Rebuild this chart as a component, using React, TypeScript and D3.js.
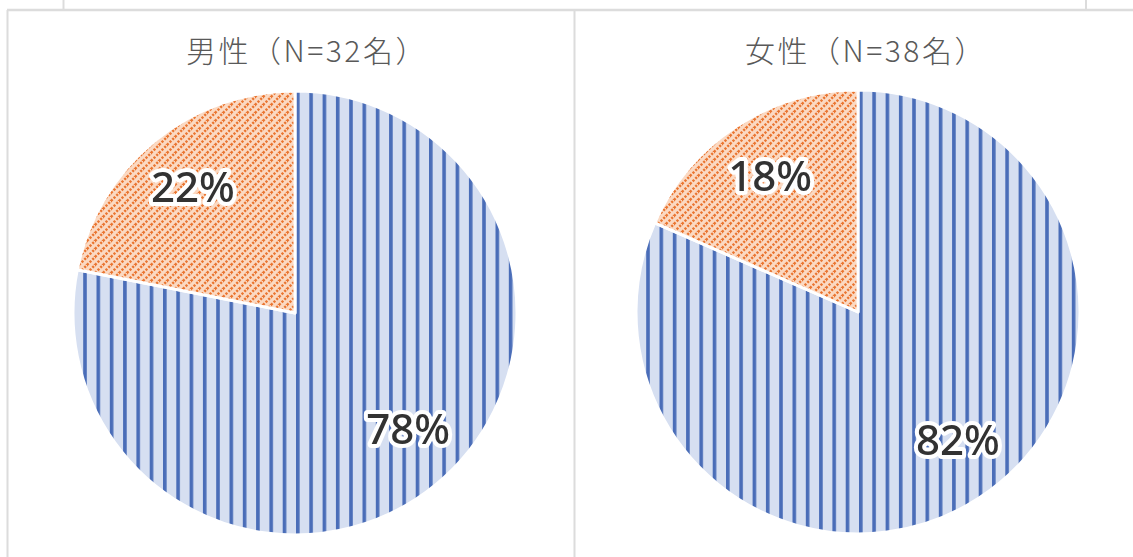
import React from "react";
import * as d3 from "d3";

const categories = ["はい", "いいえ"];
const maleCounts = [25, 7];
const femaleCounts = [31, 7];
const titles = ["男性（N=32名）", "女性（N=38名）"];
const labelsMale = ["78%", "22%"];
const labelsFemale = ["82%", "18%"];

const W = 1133;
const H = 557;

function Pie({ cx, cy, r, values, labels, title, titleDx }: any) {
  const pie = d3.pie<number>().sort(null).value((d) => d);
  const arcs = pie(values);
  const arc = d3.arc<d3.PieArcDatum<number>>().innerRadius(0).outerRadius(r);
  const fills = [`url(#blueStripe)`, `url(#orangeDiag)`];
  const angleShift = [-0.085, 0.005];
  return (
    <g>
      <text
        x={cx + titleDx}
        y={62}
        textAnchor="middle"
        fontFamily="'Noto Sans CJK JP', 'Noto Sans', sans-serif"
        fontWeight={300}
        fontSize={30}
        letterSpacing={2.5}
        fill="#595959"
      >
        {title}
      </text>
      <g transform={`translate(${cx},${cy})`}>
        {arcs.map((a, i) => (
          <path key={i} d={arc(a) as string} fill={fills[i]} stroke="#ffffff" strokeWidth={3} strokeLinejoin="round" />
        ))}
        {arcs.map((a, i) => {
          const mid = (a.startAngle + a.endAngle) / 2 + angleShift[i];
          const lr = r * 0.73;
          const x = Math.sin(mid) * lr;
          const y = -Math.cos(mid) * lr;
          return (
            <text
              key={"l" + i}
              x={x}
              y={y}
              dy="0.36em"
              textAnchor="middle"
              fontFamily="'Noto Sans', sans-serif"
              fontWeight={500}
              fontSize={42}
              fill="#333333"
              stroke="#ffffff"
              strokeWidth={8}
              strokeLinejoin="round"
              paintOrder="stroke"
              filter="url(#glow)"
            >
              {labels[i]}
            </text>
          );
        })}
      </g>
    </g>
  );
}

export default function App() {
  const r = 222;
  return (
    <svg width={W} height={H} style={{ position: "absolute", left: 0, top: 0, background: "#ffffff" }}>
      <defs>
        <pattern id="blueStripe" patternUnits="userSpaceOnUse" width={13.3} height={20} x={1}>
          <rect width={13.3} height={20} fill="#d6dff1" />
          <rect x={0} width={3.6} height={20} fill="#4a6db8" />
        </pattern>
        <pattern id="orangeDiag" patternUnits="userSpaceOnUse" width={8} height={8}>
          <rect width={8} height={8} fill="#fbd9c2" />
          <line x1={0} y1={8} x2={8} y2={0} stroke="#ea7530" strokeWidth={2.4} strokeDasharray="2.2 1.6" />
          <line x1={-1} y1={1} x2={1} y2={-1} stroke="#ea7530" strokeWidth={2.4} />
          <line x1={7} y1={9} x2={9} y2={7} stroke="#ea7530" strokeWidth={2.4} />
        </pattern>
        <filter id="glow" x="-20%" y="-40%" width="140%" height="180%">
          <feGaussianBlur in="SourceGraphic" stdDeviation={0.6} />
        </filter>
      </defs>
      <rect width={W} height={H} fill="#ffffff" />
      <line x1={63.5} y1={0} x2={63.5} y2={10} stroke="#dcdcdc" strokeWidth={2} />
      <line x1={1086} y1={0} x2={1086} y2={10} stroke="#dcdcdc" strokeWidth={2} />
      <line x1={7} y1={10} x2={W} y2={10} stroke="#dcdcdc" strokeWidth={2.5} />
      <line x1={7.5} y1={10} x2={7.5} y2={H} stroke="#dcdcdc" strokeWidth={2} />
      <line x1={574.5} y1={10} x2={574.5} y2={H} stroke="#dcdcdc" strokeWidth={2} />
      <Pie cx={295} cy={313} r={r} values={maleCounts} labels={labelsMale} title={titles[0]} titleDx={12} />
      <Pie cx={858} cy={312} r={r} values={femaleCounts} labels={labelsFemale} title={titles[1]} titleDx={8} />
    </svg>
  );
}
